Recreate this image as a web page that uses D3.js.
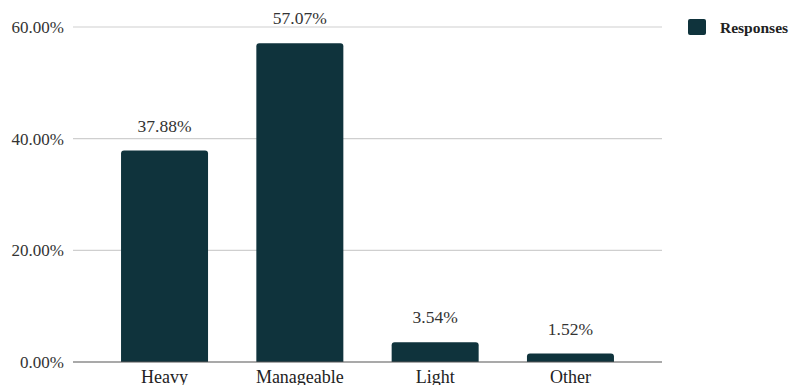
<!DOCTYPE html>
<html>
<head>
<meta charset="utf-8">
<script src="https://cdn.jsdelivr.net/npm/d3@7"></script>
<style>
  body { margin: 0; background: #fff; }
  svg { display: block; font-family: "Liberation Serif", "DejaVu Serif", serif; }
</style>
</head>
<body>
<script>
// chart data
var categories = ['Heavy', 'Manageable', 'Light', 'Other']
var responses = [37.88, 57.07, 3.54, 1.52]
var yTicks = [0, 20, 40, 60]
var seriesName = 'Responses'

var width = 793,
    height = 385

var margin = { top: 27, right: 131, bottom: 23, left: 73 }
var barColor = '#0f333c'

var svg = d3.select('body').append('svg')
    .attr('width', width)
    .attr('height', height)

var x = d3.scaleBand()
    .domain(categories)
    .range([margin.left, width - margin.right])
    .paddingInner(0.357)
    .paddingOuter(0.355)

var y = d3.scaleLinear()
    .domain([0, 60])
    .range([height - margin.bottom, margin.top])

// gridlines
svg.append('g')
  .selectAll('line')
  .data(yTicks.filter(function(d) { return d > 0 }))
  .enter().append('line')
    .attr('x1', margin.left)
    .attr('x2', width - margin.right)
    .attr('y1', function(d) { return y(d) })
    .attr('y2', function(d) { return y(d) })
    .attr('stroke', '#cfcfcf')
    .attr('stroke-width', 1.2)

// y axis labels
var yAxis = d3.axisLeft(y)
    .tickValues(yTicks)
    .tickSize(0)
    .tickPadding(9)
    .tickFormat(function(d) { return d.toFixed(2) + '%' })

svg.append('g')
    .attr('transform', 'translate(' + margin.left + ',0)')
    .call(yAxis)
    .call(function(g) { g.select('.domain').remove() })
    .selectAll('text')
      .attr('font-family', '"Liberation Serif", serif')
      .attr('font-size', 17)
      .attr('fill', '#333')

// bars with rounded top corners
function barPath(d, i) {
  var x0 = x(categories[i]),
      w = x.bandwidth(),
      y0 = y(d),
      y1 = y(0),
      r = Math.min(3, (y1 - y0) / 2)
  return 'M' + x0 + ',' + y1 +
    'V' + (y0 + r) +
    'Q' + x0 + ',' + y0 + ' ' + (x0 + r) + ',' + y0 +
    'H' + (x0 + w - r) +
    'Q' + (x0 + w) + ',' + y0 + ' ' + (x0 + w) + ',' + (y0 + r) +
    'V' + y1 + 'Z'
}

svg.append('g')
  .selectAll('path')
  .data(responses)
  .enter().append('path')
    .attr('d', barPath)
    .attr('fill', barColor)

// value labels
svg.append('g')
  .selectAll('text')
  .data(responses)
  .enter().append('text')
    .attr('x', function(d, i) { return x(categories[i]) + x.bandwidth() / 2 })
    .attr('y', function(d) { return y(d) - 19 })
    .attr('text-anchor', 'middle')
    .attr('font-size', 17.5)
    .attr('fill', '#333')
    .text(function(d) { return d.toFixed(2) + '%' })

// baseline
svg.append('line')
    .attr('x1', margin.left)
    .attr('x2', width - margin.right)
    .attr('y1', y(0))
    .attr('y2', y(0))
    .attr('stroke', '#555')
    .attr('stroke-width', 1.2)

// x axis labels
var xAxis = d3.axisBottom(x)
    .tickSize(0)
    .tickPadding(8)

svg.append('g')
    .attr('transform', 'translate(0,' + y(0) + ')')
    .call(xAxis)
    .call(function(g) { g.select('.domain').remove() })
    .selectAll('text')
      .attr('font-family', '"Liberation Serif", serif')
      .attr('font-size', 18)
      .attr('fill', '#222')

// legend
var legend = svg.append('g')
    .attr('transform', 'translate(688,19)')

legend.append('rect')
    .attr('width', 18)
    .attr('height', 16)
    .attr('rx', 2)
    .attr('fill', barColor)

legend.append('text')
    .attr('x', 32)
    .attr('y', 13.5)
    .attr('font-size', 15.5)
    .attr('font-weight', 'bold')
    .attr('fill', '#222')
    .text(seriesName)
</script>
</body>
</html>
